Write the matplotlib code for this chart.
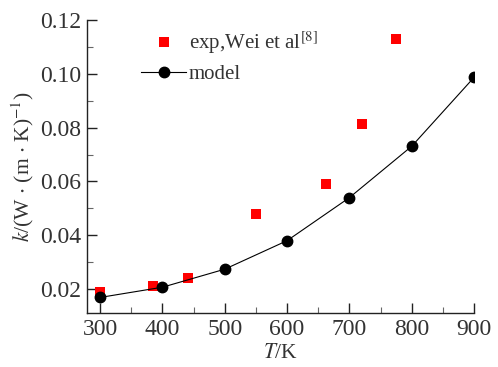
import matplotlib
matplotlib.use("Agg")
import matplotlib.pyplot as plt
from matplotlib.ticker import MultipleLocator

plt.rcParams['font.family'] = ['Liberation Serif', 'DejaVu Serif']
plt.rcParams['mathtext.fontset'] = 'stix'

model_T = [300, 400, 500, 600, 700, 800, 900]
model_k = [0.0169, 0.0207, 0.0274, 0.0380, 0.0540, 0.0731, 0.0987]
exp_T = [300, 385, 441, 550, 663, 720, 775]
exp_k = [0.0189, 0.0212, 0.0243, 0.0478, 0.0590, 0.0812, 0.1128]

fig = plt.figure(figsize=(4.98, 3.67), dpi=100)
ax = fig.add_axes([0.1747, 0.147, 0.952 - 0.1747, 0.9455 - 0.147])

ax.plot(exp_T, exp_k, 's', color='#ff0000', markersize=7.5, markeredgewidth=0,
        label=r'exp,Wei et al$^{[8]}$', zorder=3)
ax.plot(model_T, model_k, '-o', color='black', linewidth=0.8, markersize=7.5,
        label='model', zorder=4)

ax.set_xlim(279, 900)
ax.set_ylim(0.0111, 0.12)
ax.xaxis.set_major_locator(MultipleLocator(100))
ax.xaxis.set_minor_locator(MultipleLocator(50))
ax.yaxis.set_major_locator(MultipleLocator(0.02))
ax.yaxis.set_minor_locator(MultipleLocator(0.01))
ax.yaxis.set_major_formatter(matplotlib.ticker.FormatStrFormatter('%.2f'))

for s in ['top', 'right']:
    ax.spines[s].set_visible(False)
for s in ['left', 'bottom']:
    ax.spines[s].set_linewidth(1.0)
    ax.spines[s].set_color('#222222')

ax.tick_params(which='major', direction='in', length=7, width=1.0, color='#222222',
               labelsize=17, labelcolor='#333333', pad=4)
ax.tick_params(which='minor', direction='in', length=4, width=0.8, color='#666666')

ax.set_xlabel(r'$\mathit{T}$/K', fontsize=15.5, color='#333333', labelpad=3)
ax.set_ylabel(r'$\mathit{k}$/(W $\cdot$ (m $\cdot$ K)$^{-1}$)', fontsize=15.5,
              color='#333333', labelpad=3)

leg = ax.legend(loc='upper left', bbox_to_anchor=(0.09, 1.03), frameon=False,
                fontsize=15, handlelength=2.2, handletextpad=0.1, labelspacing=0.4,
                labelcolor='#333333')

fig.savefig('out.png', dpi=100)
